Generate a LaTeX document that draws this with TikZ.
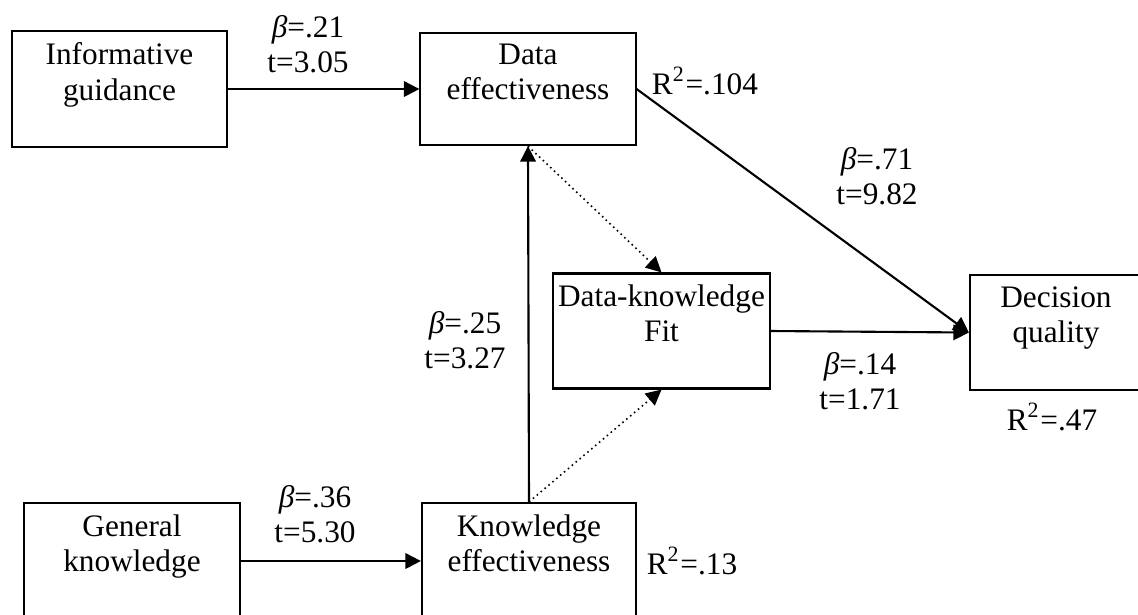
\documentclass[tikz,border=0pt]{standalone}
\usepackage{fontspec}
\setmainfont{Liberation Serif}
\usetikzlibrary{arrows.meta}

\begin{document}
\begin{tikzpicture}[x=0.01cm, y=-0.01cm, font=\fontsize{8.9}{10}\selectfont,
    >={Triangle[length=4.4pt, width=4.4pt]}]
      \useasboundingbox (0,0) rectangle (1138,614);
      \clip (0,0) rectangle (1138,614);

      {\tikzstyle{every node}=[rectangle, draw, line width=0.6pt, align=center, inner sep=1pt]
        \node[minimum width=2.15cm, minimum height=1.16cm] (info) at (119.5, 89) {Informative\\guidance\\\mbox{}};
        \node[minimum width=2.15cm, minimum height=1.12cm] (deff) at (528, 89) {Data\\effectiveness\\\mbox{}};
        \node[minimum width=2.17cm, minimum height=1.15cm] (fit) at (661.5, 331) {Data-knowledge\\Fit\\\mbox{}};
        \node[minimum width=1.72cm, minimum height=1.15cm] (dq) at (1056, 332.5) {Decision\\quality\\\mbox{}};
        \node[minimum width=2.16cm, minimum height=1.16cm] (gk) at (132, 561) {General\\knowledge\\\mbox{}};
        \node[minimum width=2.14cm, minimum height=1.16cm] (keff) at (529, 561) {Knowledge\\effectiveness\\\mbox{}};
      }

      {\tikzstyle{every node}=[align=center, inner sep=0pt]
        \node (c1) at (308, 44) {{\itshape β}=.21\\t=3.05};
        \node (c2) at (877, 176) {{\itshape β}=.71\\t=9.82};
        \node (c3) at (465, 340) {{\itshape β}=.25\\t=3.27};
        \node (c4) at (860, 381) {{\itshape β}=.14\\t=1.71};
        \node (c5) at (315, 514) {{\itshape β}=.36\\t=5.30};

        \node (r1) at (705, 81) {R\textsuperscript{2}=.104};
        \node (r2) at (692, 561) {R\textsuperscript{2}=.13};
        \node (r3) at (1052, 417) {R\textsuperscript{2}=.47};
      }

      \draw [->, line width=0.6pt]
        (info) -- (deff);
      \draw [->, line width=0.6pt]
        (gk) -- (keff);
      \draw [->, line width=0.6pt]
        (keff.north) -- (deff.south);
      \draw [->, line width=0.6pt]
        (deff.east) -- (dq.west);
      \draw [->, line width=0.6pt]
        (fit.east) -- (dq.west);

      \draw [->, densely dotted, line width=0.45pt]
        (deff.south) -- (fit.north);
      \draw [->, densely dotted, line width=0.45pt]
        (keff.north) -- (fit.south);
    \end{tikzpicture}
\end{document}
